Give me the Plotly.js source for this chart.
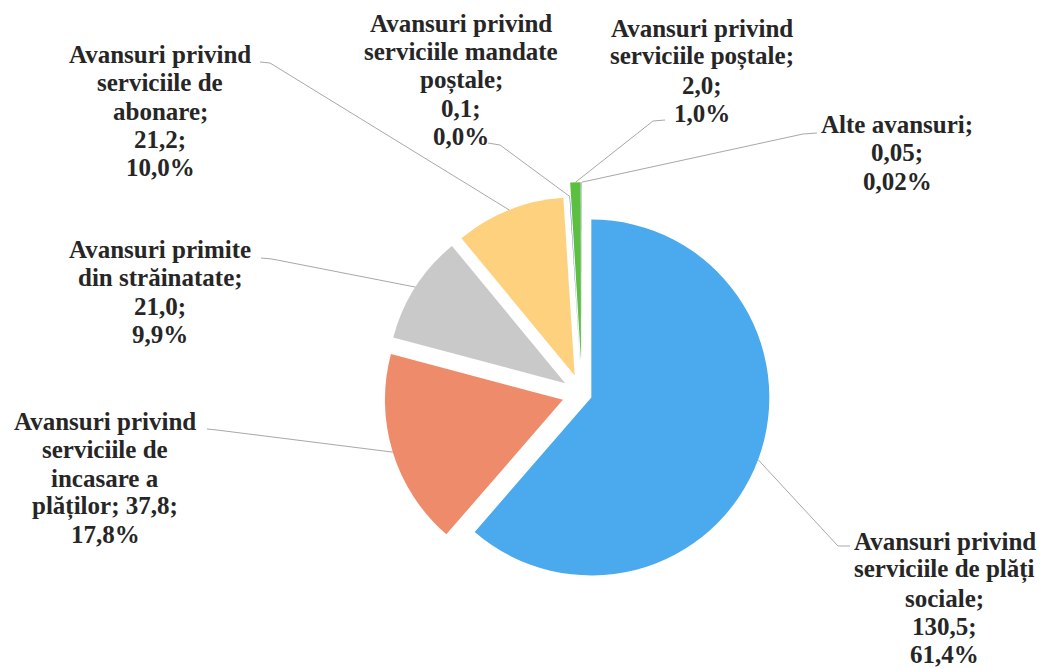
<!DOCTYPE html>
<html>
<head>
<meta charset="utf-8">
<script src="https://cdn.plot.ly/plotly-3.0.1.min.js"></script>
<style>
html,body{margin:0;padding:0;background:#ffffff;}
#chart{width:1045px;height:668px;}
</style>
</head>
<body>
<div id="chart"></div>
<script>
// ---- data ----
const categories = [
  "Avansuri privind serviciile de plăți sociale",
  "Avansuri privind serviciile de incasare a plăților",
  "Avansuri primite din străinatate",
  "Avansuri privind serviciile de abonare",
  "Avansuri privind serviciile mandate poștale",
  "Avansuri privind serviciile poștale",
  "Alte avansuri"
];
const values = [130.5, 37.8, 21.0, 21.2, 0.1, 2.0, 0.05];
const valueLabels = ["130,5", "37,8", "21,0", "21,2", "0,1", "2,0", "0,05"];
const percentLabels = ["61,4%", "17,8%", "9,9%", "10,0%", "0,0%", "1,0%", "0,02%"];

// ---- style / layout ----
const colors = ["#4ba9ee", "#ee8b6b", "#c9c9c9", "#fdd17e", "#4472c4", "#5dbf3f", "#264478"];
const W = 1045, H = 668;
const CX = 582, CY = 394, R = 178;
const pulls = [0.056, 0.112, 0.112, 0.112, 0.112, 0.19, 0.19];
const wrapWords = [[2,3,1,1,1],[2,2,2,2,1],[2,2,1,1],[2,2,1,1,1],[2,2,1,1,1],[2,2,1,1],[2,1,1]];
const labelPos = [[945,550],[105,430],[160,258],[160,63],[461,32],[702,37],[897,133]];
const leaderStart = [[850,546],[207,429],[261,258],[260,62],[488,143],[665,120],[817,133]];
const leaderKnee  = [[838,546],[217,430],[272,259],[270,63],[500,145],[653,121],[803,134]];
const LINE = 28.3, FS = 25;
const FONT = "Liberation Serif";

const maxPull = Math.max(...pulls);
const box = 2 * R * (1 + maxPull);
const domX = [(CX - box/2) / W, (CX + box/2) / W];
const domY = [1 - (CY + box/2) / H, 1 - (CY - box/2) / H];

const px = x => x / W;
const py = y => 1 - y / H;

const total = values.reduce((a, b) => a + b, 0);
const annotations = [];
const shapes = [];
let cum = 0;
values.forEach((v, i) => {
  const a0 = cum / total * 2 * Math.PI;
  const a1 = (cum + v) / total * 2 * Math.PI;
  cum += v;
  const mid = (a0 + a1) / 2;
  const dx = Math.sin(mid), dy = -Math.cos(mid);
  const ax = CX + pulls[i] * R * dx, ay = CY + pulls[i] * R * dy;
  const ex = ax + R * dx, ey = ay + R * dy;
  const s = leaderStart[i], k = leaderKnee[i];
  shapes.push({
    type: "path", xref: "paper", yref: "paper",
    path: `M ${px(s[0])} ${py(s[1])} L ${px(k[0])} ${py(k[1])} L ${px(ex)} ${py(ey)}`,
    line: {color: "#a8a8a8", width: 1}
  });

  const words = (categories[i] + "; " + valueLabels[i] + "; " + percentLabels[i]).split(" ");
  let w = 0;
  wrapWords[i].forEach((n, li) => {
    const line = words.slice(w, w + n).join(" ");
    w += n;
    const base = labelPos[i][1] + li * LINE;
    annotations.push({
      xref: "paper", yref: "paper",
      x: px(labelPos[i][0]), y: py(base - 0.3375 * FS),
      xanchor: "center", yanchor: "middle",
      showarrow: false, text: "<b>" + line + "</b>",
      font: {family: FONT, size: FS, color: "#262626"}
    });
  });
});

const trace = {
  type: "pie",
  labels: categories,
  values: values,
  sort: false,
  direction: "clockwise",
  rotation: 0,
  pull: pulls,
  marker: {colors: colors, line: {width: 0}},
  textinfo: "none",
  hoverinfo: "none",
  showlegend: false,
  domain: {x: domX, y: domY}
};

const layout = {
  width: W, height: H,
  margin: {l: 0, r: 0, t: 0, b: 0},
  paper_bgcolor: "#ffffff",
  plot_bgcolor: "#ffffff",
  showlegend: false,
  font: {family: FONT},
  annotations: annotations,
  shapes: shapes
};

Plotly.newPlot("chart", [trace], layout, {displayModeBar: false, staticPlot: true});
</script>
</body>
</html>
